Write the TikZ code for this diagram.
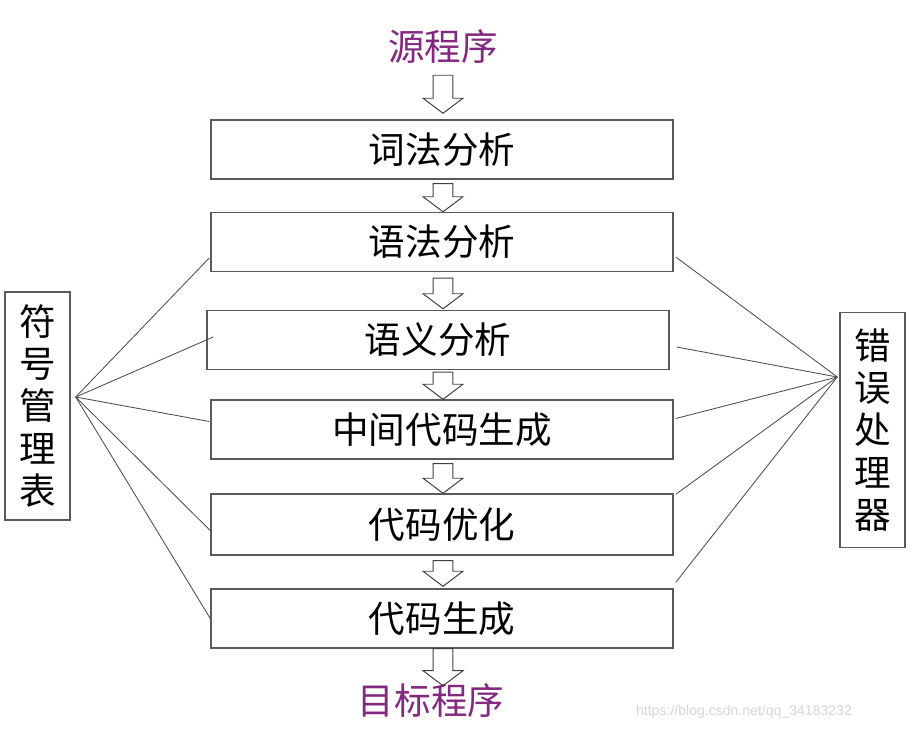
\documentclass[tikz,border=0pt]{standalone}
\usepackage{fontspec}
\usepackage{xcolor}
\usepackage{tikz}
\usetikzlibrary{positioning,calc}
\newfontfamily\cjk{Noto Sans CJK SC}
\newfontfamily\wmfont{Liberation Sans}
\definecolor{srcpurple}{HTML}{83287F}
\definecolor{boxgray}{HTML}{5A5A5A}
\definecolor{wmgray}{HTML}{D6D6D6}

\newcommand{\fatarrow}[2]{%
  \draw[hollow] let \p1=(#1), \p2=(#2) in
    (\x1-7.1pt,\y1) -- (\x1+7.1pt,\y1) -- (\x1+7.1pt,\y2+10.7pt)
    -- (\x1+14.2pt,\y2+10.7pt) -- (\x2,\y2) -- (\x1-14.2pt,\y2+10.7pt)
    -- (\x1-7.1pt,\y2+10.7pt) -- cycle;}

\begin{document}
\begin{tikzpicture}[x=0.025cm,y=-0.025cm,
  stage/.style={draw=boxgray,line width=1pt,minimum width=11.55cm,
                minimum height=1.475cm,inner sep=0pt,
                font=\cjk\fontsize{26pt}{30pt}\selectfont},
  side/.style={draw=boxgray,line width=1pt,minimum width=1.625cm,
               align=center,inner sep=0pt,
               font=\cjk\fontsize{26pt}{30pt}\selectfont},
  io/.style={text=srcpurple,inner sep=0pt,
             font=\cjk\fontsize{26pt}{30pt}\selectfont},
  hollow/.style={draw=black!75,line width=0.7pt,line join=miter},
  link/.style={draw=black!70,line width=0.6pt}]
\useasboundingbox (0,0) rectangle (920,730);
\coordinate (axis) at (443,0);
% compiler phases
\node[stage] (lex) at (442,149.5) {词法分析};
\node[stage] (syn) at (442,242) {语法分析};
\node[stage] (sem) at (438,340) {语义分析};
\node[stage] (ir) at (442,429.5) {中间代码生成};
\node[stage,minimum height=1.525cm] (opt) at (442,524.5) {代码优化};
\node[stage] (gen) at (442,618.5) {代码生成};
\node[io] (src) at (443,47) {源程序};
\node[io] (tgt) at (431,701) {目标程序};
% side boxes
\node[side,minimum height=5.7cm] (sym) at (37.5,406) {符\\号\\管\\理\\表};
\node[side,minimum height=5.875cm] (err) at (872.5,430) {错\\误\\处\\理\\器};
\coordinate (symhub) at ($(sym.east)+(5,-9)$);
\coordinate (errhub) at ($(err.west)+(-2,-53)$);
\draw[link] (symhub) -- ($(syn.west)+(-1,16)$);
\draw[link] (symhub) -- ($(sem.west)+(7,-3)$);
\draw[link] (symhub) -- ($(ir.west)+(-1,-8)$);
\draw[link] (symhub) -- ($(opt.west)+(0,6)$);
\draw[link] (symhub) -- (gen.west);
\draw[link] (errhub) -- ($(syn.east)+(2,15)$);
\draw[link] (errhub) -- ($(sem.east)+(7,7)$);
\draw[link] (errhub) -- ($(ir.east)+(2,-11)$);
\draw[link] (errhub) -- ($(opt.north east)+(2,1)$);
\draw[link] (errhub) -- ($(gen.north east)+(2,-6)$);
% flow arrows
\fatarrow{$(src.south -| axis)+(0,11)$}{$(lex.north -| axis)+(0,-6)$}
\fatarrow{$(lex.south -| axis)+(0,4)$}{syn.north -| axis}
\fatarrow{$(syn.south -| axis)+(0,6)$}{$(sem.north -| axis)+(0,-1)$}
\fatarrow{$(sem.south -| axis)+(0,2)$}{ir.north -| axis}
\fatarrow{$(ir.south -| axis)+(0,4)$}{opt.north -| axis}
\fatarrow{$(opt.south -| axis)+(0,5)$}{$(gen.north -| axis)+(0,-2)$}
\fatarrow{gen.south -| axis}{$(tgt.north -| axis)+(0,2)$}
\node[font=\wmfont\fontsize{10pt}{12pt}\selectfont,text=wmgray,inner sep=0pt]
  (wm) at (744,712) {https://blog.csdn.net/qq\_34183232};
\end{tikzpicture}
\end{document}
